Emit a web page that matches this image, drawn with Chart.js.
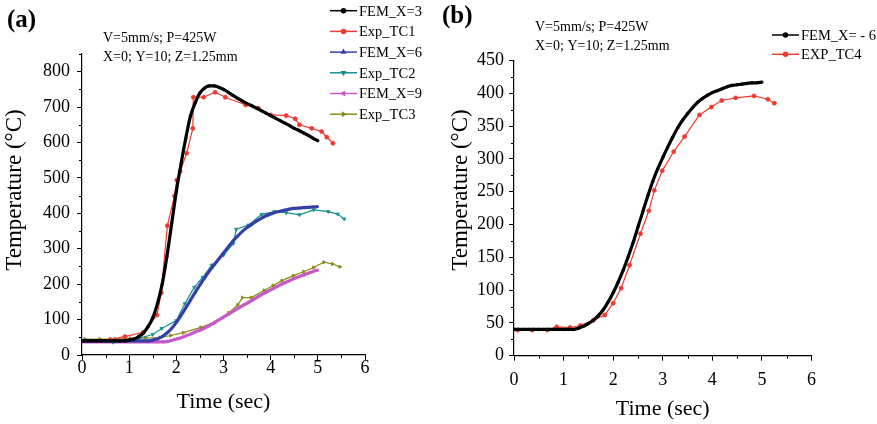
<!DOCTYPE html>
<html>
<head>
<meta charset="utf-8">
<script src="https://cdn.jsdelivr.net/npm/chart.js@4.4.1/dist/chart.umd.min.js"></script>
<style>
  body { margin: 0; background: #fff; }
  #wrap { position: relative; width: 877px; height: 424px; }
  .box { position: absolute; top: 0; height: 424px; }
</style>
</head>
<body>
<div id="wrap">
  <div class="box" style="left:0;width:440px"><canvas id="chartA"></canvas></div>
  <div class="box" style="left:440px;width:437px"><canvas id="chartB"></canvas></div>
</div>
<script>
// ---- data ----
// FEM curves are sampled every 0.1 s
const femTime = [0, 0.1, 0.2, 0.3, 0.4, 0.5, 0.6, 0.7, 0.8, 0.9, 1.0, 1.1, 1.2, 1.3, 1.4, 1.5, 1.6, 1.7, 1.8, 1.9,
  2.0, 2.1, 2.2, 2.3, 2.4, 2.5, 2.6, 2.7, 2.8, 2.9, 3.0, 3.1, 3.2, 3.3, 3.4, 3.5, 3.6, 3.7, 3.8, 3.9,
  4.0, 4.1, 4.2, 4.3, 4.4, 4.5, 4.6, 4.7, 4.8, 4.9, 5.0];

// panel (a)
const femX3 = [40, 40, 40, 40, 40, 40, 40, 40, 40, 40, 42, 45, 52, 62, 80, 105, 145, 200, 278, 370,
  462, 540, 612, 675, 712, 740, 754, 760, 760, 756, 750, 742, 733, 725, 717, 710, 704, 697, 690, 683,
  676, 669, 662, 655, 648, 640, 634, 627, 620, 612, 605];
const femX6 = [40, 40, 40, 40, 40, 40, 40, 40, 40, 40, 40, 40, 40, 40, 40, 42, 46, 52, 62, 75,
  92, 112, 133, 155, 177, 198, 218, 237, 254, 271, 288, 305, 322, 336, 349, 360, 369, 378, 386, 393,
  398, 403, 406, 409, 412, 414, 415, 416, 417, 418, 419];
const femX9 = [37, 37, 37, 37, 37, 37, 37, 37, 37, 37, 37, 37, 37, 37, 37, 37, 37, 37, 38, 41,
  45, 49, 54, 59, 65, 70, 76, 83, 91, 99, 107, 115, 123, 131, 139, 146, 154, 162, 170, 177,
  184, 191, 198, 204, 210, 216, 221, 226, 231, 236, 240];

const tc1Time = [0.6, 0.91, 1.3, 1.59, 1.68, 1.81, 1.96, 2.01, 2.08, 2.22, 2.35, 2.36, 2.58, 2.82, 3.04, 3.47, 3.74, 4.0, 4.33, 4.52, 4.61, 4.87, 5.08, 5.19, 5.32];
const tc1Temp = [44, 52, 64, 113, 176, 365, 449, 494, 518, 570, 640, 728, 728, 742, 728, 706, 697, 678, 676, 667, 650, 640, 631, 615, 598];

const tc2Time = [0.07, 0.66, 1.2, 1.5, 1.69, 2.0, 2.18, 2.38, 2.56, 2.75, 3.0, 3.21, 3.27, 3.53, 3.81, 4.08, 4.33, 4.61, 4.91, 5.22, 5.42, 5.56];
const tc2Temp = [42, 36, 47, 58, 75, 97, 145, 191, 219, 254, 282, 315, 355, 367, 397, 405, 402, 396, 410, 405, 398, 384];

const tc3Time = [0.06, 0.38, 0.71, 1.03, 1.35, 1.65, 1.88, 2.15, 2.52, 2.82, 3.11, 3.30, 3.40, 3.59, 3.86, 4.05, 4.24, 4.48, 4.70, 4.91, 5.13, 5.31, 5.47];
const tc3Temp = [45, 45, 45, 47, 48, 49, 55, 63, 78, 92, 119, 141, 162, 162, 182, 196, 210, 224, 235, 247, 262, 257, 249];

// panel (b)
const femXm6 = [40, 40, 40, 40, 40, 40, 40, 40, 40, 40, 40, 40, 40, 42, 45, 49, 54, 61, 70, 82,
  96, 112, 130, 150, 172, 196, 220, 244, 266, 285, 302, 318, 333, 347, 359, 369, 378, 386, 392, 397,
  401, 404, 407, 410, 412, 413, 414, 415, 416, 416, 417];
const tc4Time = [0.07, 0.37, 0.67, 0.86, 1.13, 1.34, 1.60, 1.83, 2.0, 2.16, 2.33, 2.55, 2.72, 2.83, 2.99, 3.22, 3.44, 3.74, 3.98, 4.19, 4.47, 4.84, 5.12, 5.25];
const tc4Temp = [39, 39, 39, 44, 43, 46, 54, 62, 80, 103, 138, 186, 221, 252, 282, 311, 334, 367, 379, 389, 393, 396, 391, 385];

const notes = ["V=5mm/s; P=425W", "X=0; Y=10; Z=1.25mm"];

// ---- helpers ----
const SERIF = "'Liberation Serif', 'Times New Roman', serif";

function pts(xs, ys) {
  return xs.map((x, i) => ({ x: x, y: ys[i] }));
}

function femSet(label, ys, color, style, rot) {
  return {
    label: label, data: pts(femTime, ys),
    borderColor: color, backgroundColor: color,
    borderWidth: 3.2, pointRadius: 1.3, pointStyle: style, pointRotation: rot || 0,
    pointBorderWidth: 0.6, cubicInterpolationMode: "monotone"
  };
}

function expSet(label, xs, ys, color, style, rot) {
  return {
    label: label, data: pts(xs, ys),
    borderColor: color, backgroundColor: color,
    borderWidth: 1.2, pointRadius: 2, pointStyle: style, pointRotation: rot || 0,
    pointBorderWidth: 0.8, tension: 0
  };
}

// texts, legend, minor ticks and y title drawn onto the canvas
const overlay = {
  id: "overlay",
  afterDraw(chart, args, o) {
    const ctx = chart.ctx;
    const xs = chart.scales.x, ys = chart.scales.y;
    ctx.save();

    // minor ticks
    ctx.strokeStyle = "#000";
    ctx.lineWidth = 1;
    ctx.beginPath();
    for (let v = xs.min; v <= xs.max + 1e-9; v += o.xMinor) {
      if (Math.abs(v % 1) < 1e-9) continue;
      const px = Math.round(xs.getPixelForValue(v)) + 0.5;
      ctx.moveTo(px, xs.top);
      ctx.lineTo(px, xs.top + 3);
    }
    for (let v = ys.min; v <= ys.max + 1e-9; v += o.yMinor) {
      if (v % o.yMajor === 0) continue;
      const py = Math.round(ys.getPixelForValue(v)) + 0.5;
      ctx.moveTo(ys.right, py);
      ctx.lineTo(ys.right - 3, py);
    }
    ctx.stroke();

    ctx.fillStyle = "#000";
    ctx.textBaseline = "middle";

    // y title
    ctx.save();
    ctx.translate(o.yTitleX, o.yTitleY);
    ctx.rotate(-Math.PI / 2);
    ctx.textAlign = "center";
    ctx.font = "23px " + SERIF;
    ctx.fillText("Temperature (\u00B0C)", 0, 0);
    ctx.restore();

    // panel label
    ctx.textAlign = "left";
    ctx.font = "bold 25px " + SERIF;
    ctx.fillText(o.panel, o.panelX, o.panelY);

    // run conditions
    ctx.font = "14px " + SERIF;
    notes.forEach((t, i) => ctx.fillText(t, o.noteX, o.noteY + i * 19.5));

    // legend
    ctx.font = "14.5px " + SERIF;
    chart.data.datasets.forEach((ds, i) => {
      const y = o.legY + i * o.legStep;
      ctx.strokeStyle = ds.borderColor;
      ctx.lineWidth = 1.5;
      ctx.beginPath();
      ctx.moveTo(o.legX, y);
      ctx.lineTo(o.legX + 27, y);
      ctx.stroke();
      if (Chart.helpers && Chart.helpers.drawPoint) {
        ctx.fillStyle = ds.borderColor;
        Chart.helpers.drawPoint(ctx, {
          pointStyle: ds.pointStyle, rotation: ds.pointRotation,
          radius: 2, borderWidth: 0.8
        }, o.legX + 13.5, y);
      }
      ctx.fillStyle = "#000";
      ctx.fillText(ds.label, o.legX + 29, y + 1);
    });
    ctx.restore();
  }
};

function makeOptions(cfg) {
  return {
    responsive: true,
    maintainAspectRatio: false,
    animation: false,
    devicePixelRatio: 1,
    layout: { padding: { left: 0, bottom: 0, top: cfg.top, right: cfg.right } },
    plugins: {
      legend: { display: false },
      tooltip: { enabled: false },
      overlay: cfg.overlay
    },
    scales: {
      x: {
        type: "linear", min: 0, max: 6,
        afterFit: s => { s.height = cfg.xH; },
        ticks: { stepSize: 1, autoSkip: false, maxRotation: 0, color: "#000", padding: cfg.xPad,
          font: { family: SERIF, size: 18 } },
        grid: { drawOnChartArea: false, drawTicks: true, tickLength: 5, color: "#000", tickWidth: 1 },
        border: { color: "#000", width: 1.2 }
        ,
        title: { display: true, text: "Time (sec)", color: "#000",
          font: { family: SERIF, size: 22 }, padding: { top: 0, bottom: cfg.xTitlePad } }
      },
      y: {
        min: 0, max: cfg.yMax,
        afterFit: s => { s.width = cfg.yW; },
        ticks: {
          stepSize: cfg.yStep, autoSkip: false, includeBounds: false, color: "#000", padding: cfg.yPad,
          font: { family: SERIF, size: 18 }
        },
        grid: { drawOnChartArea: false, drawTicks: true, tickLength: 5, tickWidth: 1, color: "#000" },
        border: { color: "#000", width: 1.2 }
      }
    }
  };
}

new Chart(document.getElementById("chartA"), {
  type: "line",
  data: {
    datasets: [
      femSet("FEM_X=3", femX3, "#000000", "circle"),
      expSet("Exp_TC1", tc1Time, tc1Temp, "#ee3b30", "circle"),
      femSet("FEM_X=6", femX6, "#3440a8", "triangle"),
      expSet("Exp_TC2", tc2Time, tc2Temp, "#17918f", "triangle", 180),
      femSet("FEM_X=9", femX9, "#c858c8", "triangle", -90),
      expSet("Exp_TC3", tc3Time, tc3Temp, "#8c8a18", "triangle", 90)
    ]
  },
  options: makeOptions({
    top: 54, right: 75, xH: 69, yW: 82, yMax: 850, yStep: 100, xPad: -3, yPad: 7, xTitlePad: 9,
    overlay: {
      xMinor: 0.5, yMinor: 50, yMajor: 100,
      yTitleX: 15, yTitleY: 190,
      panel: "(a)", panelX: 7, panelY: 21,
      noteX: 103, noteY: 38,
      legX: 330, legY: 10.7, legStep: 20.7
    }
  }),
  plugins: [overlay]
});

new Chart(document.getElementById("chartB"), {
  type: "line",
  data: {
    datasets: [
      femSet("FEM_X= - 6", femXm6, "#000000", "circle"),
      expSet("EXP_TC4", tc4Time, tc4Temp, "#ee3b30", "circle")
    ]
  },
  options: makeOptions({
    top: 60.5, right: 65.5, xH: 68.3, yW: 74, yMax: 450, yStep: 50, xPad: 9, yPad: 5, xTitlePad: 2,
    overlay: {
      xMinor: 0.5, yMinor: 25, yMajor: 50,
      yTitleX: 21, yTitleY: 190,
      panel: "(b)", panelX: 2, panelY: 17,
      noteX: 95, noteY: 27,
      legX: 332, legY: 35, legStep: 19.3
    }
  }),
  plugins: [overlay]
});
</script>
</body>
</html>
